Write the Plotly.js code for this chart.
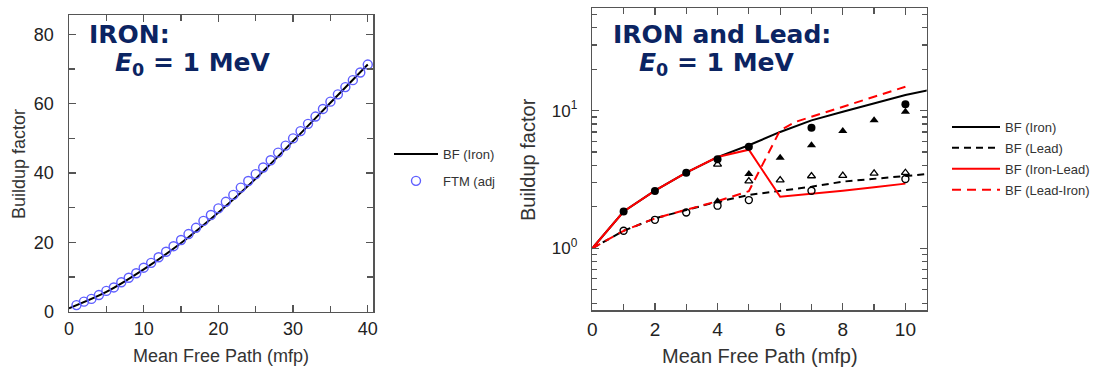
<!DOCTYPE html>
<html><head><meta charset="utf-8">
<script src="https://cdn.plot.ly/plotly-3.0.1.min.js"></script>
<style>html,body{margin:0;padding:0;background:#fff;overflow:hidden}#chart{width:1099px;height:369px}</style>
</head><body><div id="chart"></div>
<script>
// ---- Left panel: IRON, E0 = 1 MeV ----
const ironMfp = [0, 5, 10, 15, 20, 25, 30, 35, 40];
const ironBF  = [1.0, 5.7, 12.2, 19.8, 28.6, 38.4, 49.2, 60.3, 71.3];
const ftmMfp = [1,2,3,4,5,6,7,8,9,10,11,12,13,14,15,16,17,18,19,20,21,22,23,24,25,26,27,28,29,30,31,32,33,34,35,36,37,38,39,40];
const ftmBF  = [1.9,2.9,3.7,4.8,6.0,7.0,8.5,9.8,11.1,12.7,14.1,15.7,17.3,18.9,20.7,22.4,24.2,26.2,27.9,29.8,31.7,33.7,35.8,37.7,39.7,41.6,43.7,45.9,47.9,50.0,52.1,54.2,56.3,58.5,60.6,62.7,64.8,66.8,69.0,71.3];

// ---- Right panel: IRON and Lead, E0 = 1 MeV ----
const mfpLine    = [0, 1, 2, 3, 4, 5, 6, 7, 8, 9, 10, 10.7];
const bfIronLine = [1, 1.85, 2.62, 3.55, 4.6, 5.6, 7.0, 8.5, 9.8, 11.3, 13.0, 14.0];
const bfLeadLine = [1, 1.34, 1.65, 1.9, 2.18, 2.44, 2.62, 2.8, 3.05, 3.19, 3.35, 3.46];
const mfpIronLead = [0, 1, 2, 3, 4, 5, 6, 7, 8, 9, 10];
const bfIronLead  = [1, 1.85, 2.62, 3.55, 4.6, 5.2, 2.37, 2.48, 2.62, 2.78, 2.95];
const mfpLeadIron = [0, 1, 2, 3, 4, 5, 6, 6.5, 7, 8, 9, 10];
const bfLeadIron  = [1, 1.34, 1.65, 1.9, 2.2, 2.6, 7.2, 8.3, 9.0, 10.7, 12.6, 14.9];

const ptIronX = [1, 2, 3, 4, 5, 7, 10];
const ptIronY = [1.85, 2.61, 3.54, 4.43, 5.47, 7.5, 11.1];
const ptLeadX = [1, 2, 3, 4, 5, 7, 10];
const ptLeadY = [1.34, 1.61, 1.82, 2.04, 2.24, 2.62, 3.19];
const ptFilledTriX = [4, 5, 6, 7, 8, 9, 10];
const ptFilledTriY = [2.2, 3.46, 4.55, 5.6, 7.1, 8.5, 9.8];
const ptOpenTriX = [4, 5, 6, 7, 8, 9, 10];
const ptOpenTriY = [4.07, 3.08, 3.13, 3.35, 3.37, 3.5, 3.54];

const legendNames = ['BF (Iron)', 'FTM (adj', 'BF (Lead)', 'BF (Iron-Lead)', 'BF (Lead-Iron)'];
const logTickVals = [1, 10];
const logTickText = ['10<sup>0</sup>', '10<sup>1</sup>'];
const logMinorVals = [0.4,0.5,0.6,0.7,0.8,0.9,2,3,4,5,6,7,8,9,20,30,40,50];

const W = 1099, H = 369;
const px = v => v / W, py = v => 1 - v / H;
const FONT = 'Liberation Sans, Arial, Helvetica, sans-serif';
const NAVY = '#0b2462';
const AX = '#555';
const RED = 'rgb(255,0,0)';

const traces = [
  {x: ironMfp, y: ironBF, xaxis: 'x', yaxis: 'y', mode: 'lines', line: {color: '#000', width: 2, shape: 'spline'}, name: legendNames[0], legend: 'legend', legendgroup: 'a'},
  {x: ftmMfp, y: ftmBF, xaxis: 'x', yaxis: 'y', mode: 'markers', marker: {symbol: 'circle-open', size: 9, color: 'rgb(95,95,255)', line: {width: 1.4}}, name: legendNames[1], legend: 'legend', legendgroup: 'b'},

  {x: mfpLine, y: bfIronLine, xaxis: 'x2', yaxis: 'y2', mode: 'lines', line: {color: '#000', width: 2}, name: legendNames[0], legend: 'legend2', legendgroup: 'c'},
  {x: mfpLine, y: bfLeadLine, xaxis: 'x2', yaxis: 'y2', mode: 'lines', line: {color: '#000', width: 2, dash: '7px,5px'}, name: legendNames[2], legend: 'legend2', legendgroup: 'd'},
  {x: mfpIronLead, y: bfIronLead, xaxis: 'x2', yaxis: 'y2', mode: 'lines', line: {color: RED, width: 2}, name: legendNames[3], legend: 'legend2', legendgroup: 'e'},
  {x: mfpLeadIron, y: bfLeadIron, xaxis: 'x2', yaxis: 'y2', mode: 'lines', line: {color: RED, width: 2, dash: '9px,6px'}, name: legendNames[4], legend: 'legend2', legendgroup: 'f'},

  {x: ptIronX, y: ptIronY, xaxis: 'x2', yaxis: 'y2', mode: 'markers', marker: {symbol: 'circle', size: 8, color: '#000'}, showlegend: false},
  {x: ptLeadX, y: ptLeadY, xaxis: 'x2', yaxis: 'y2', mode: 'markers', marker: {symbol: 'circle-open', size: 7, color: '#000', line: {width: 1.4}}, showlegend: false},
  {x: ptFilledTriX, y: ptFilledTriY, xaxis: 'x2', yaxis: 'y2', mode: 'markers', marker: {symbol: 'triangle-up', size: 8, color: '#000'}, showlegend: false},
  {x: ptOpenTriX, y: ptOpenTriY, xaxis: 'x2', yaxis: 'y2', mode: 'markers', marker: {symbol: 'triangle-up-open', size: 7, color: '#000', line: {width: 1.3}}, showlegend: false}
];

function axBase(extra) {
  return Object.assign({
    showline: true, mirror: 'allticks', linecolor: AX, linewidth: 1.5,
    ticks: 'inside', ticklen: 7, tickwidth: 1.2, tickcolor: AX,
    showgrid: false, zeroline: false, fixedrange: true,
    tickfont: {family: FONT, size: 18, color: '#222'}
  }, extra);
}

const layout = {
  width: W, height: H,
  margin: {l: 0, r: 0, t: 0, b: 0},
  paper_bgcolor: '#fff', plot_bgcolor: '#fff',
  xaxis: axBase({domain: [px(69), px(373)], range: [0, 40.7], anchor: 'y', tick0: 0, dtick: 10,
    ticklabelstandoff: 0,
    minor: {dtick: 5, ticks: 'inside', ticklen: 6, tickcolor: AX, tickwidth: 1.2}}),
  yaxis: axBase({domain: [1 - 311.7 / H, 1 - 15 / H], range: [0, 85.6], anchor: 'x', tick0: 0, dtick: 20,
    ticklabelstandoff: 10,
    minor: {dtick: 10, ticks: 'inside', ticklen: 6, tickcolor: AX, tickwidth: 1.2}}),
  xaxis2: axBase({domain: [px(592.3), px(926.7)], range: [0, 10.68], anchor: 'y2', tick0: 0, dtick: 2,
    ticklabelstandoff: 2, tickfont: {family: FONT, size: 19, color: '#222'},
    minor: {dtick: 1, ticks: 'inside', ticklen: 6, tickcolor: AX, tickwidth: 1.2}}),
  yaxis2: axBase({type: 'log', domain: [1 - 310 / H, 1 - 8.3 / H], range: [-0.448, 1.743], anchor: 'x2',
    tickmode: 'array', tickvals: logTickVals, ticktext: logTickText, ticklabelstandoff: 10,
    tickfont: {family: FONT, size: 17, color: '#222'},
    minor: {tickmode: 'array', tickvals: logMinorVals, ticks: 'inside', ticklen: 5, tickcolor: AX, tickwidth: 1.2}}),
  legend: {x: px(389), y: py(139), xanchor: 'left', yanchor: 'top', bgcolor: 'rgba(0,0,0,0)',
    font: {family: FONT, size: 13, color: '#333'}, tracegroupgap: 7, itemwidth: 44},
  legend2: {x: px(947), y: py(112), xanchor: 'left', yanchor: 'top', bgcolor: 'rgba(0,0,0,0)',
    font: {family: FONT, size: 13, color: '#333'}, tracegroupgap: 1, itemwidth: 48},
  showlegend: true,
  annotations: [
    {xref: 'paper', yref: 'paper', x: px(87), y: py(34), xanchor: 'left', yanchor: 'middle', showarrow: false,
     text: '<b>IRON:</b>', font: {family: 'DejaVu Sans', size: 25, color: NAVY}},
    {xref: 'paper', yref: 'paper', x: px(113), y: py(64), xanchor: 'left', yanchor: 'middle', showarrow: false,
     text: '<b><i>E</i><sub>0</sub> = 1 MeV</b>', font: {family: 'DejaVu Sans', size: 25, color: NAVY}},
    {xref: 'paper', yref: 'paper', x: px(611), y: py(34), xanchor: 'left', yanchor: 'middle', showarrow: false,
     text: '<b>IRON and Lead:</b>', font: {family: 'DejaVu Sans', size: 25, color: NAVY}},
    {xref: 'paper', yref: 'paper', x: px(637), y: py(64), xanchor: 'left', yanchor: 'middle', showarrow: false,
     text: '<b><i>E</i><sub>0</sub> = 1 MeV</b>', font: {family: 'DejaVu Sans', size: 25, color: NAVY}},
    {xref: 'paper', yref: 'paper', x: px(19), y: py(164), xanchor: 'center', yanchor: 'middle', showarrow: false, textangle: -90,
     text: 'Buildup factor', font: {family: FONT, size: 18, color: '#333'}},
    {xref: 'paper', yref: 'paper', x: px(221), y: py(356), xanchor: 'center', yanchor: 'middle', showarrow: false,
     text: 'Mean Free Path (mfp)', font: {family: FONT, size: 18, color: '#333'}},
    {xref: 'paper', yref: 'paper', x: px(528), y: py(160), xanchor: 'center', yanchor: 'middle', showarrow: false, textangle: -90,
     text: 'Buildup factor', font: {family: FONT, size: 20, color: '#333'}},
    {xref: 'paper', yref: 'paper', x: px(760), y: py(356), xanchor: 'center', yanchor: 'middle', showarrow: false,
     text: 'Mean Free Path (mfp)', font: {family: FONT, size: 20, color: '#333'}}
  ]
};

Plotly.newPlot('chart', traces, layout, {displayModeBar: false, staticPlot: true});
</script></body></html>
